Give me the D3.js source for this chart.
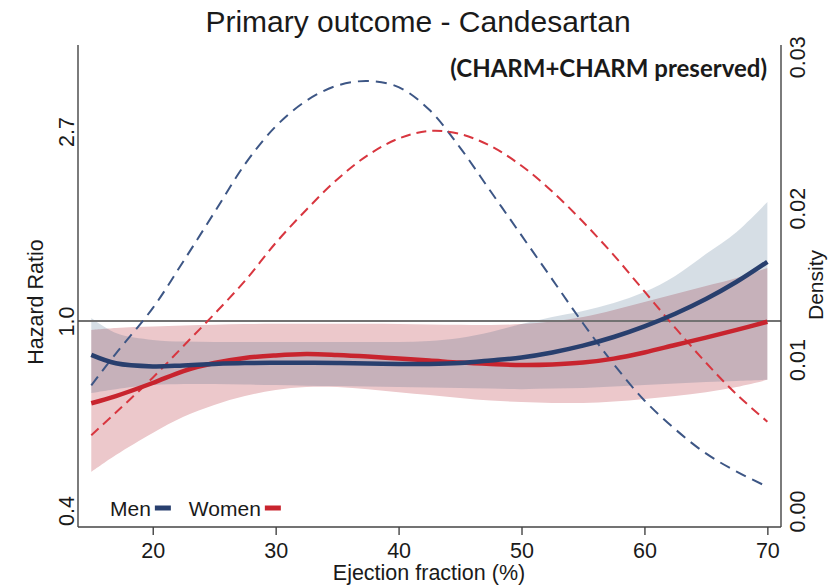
<!DOCTYPE html>
<html>
<head>
<meta charset="utf-8">
<script src="https://cdn.jsdelivr.net/npm/d3@7"></script>
<style>
  html, body { margin: 0; padding: 0; background: #ffffff; }
  svg { display: block; }
  text { font-family: "Liberation Sans", Arial, sans-serif; fill: #1a1a1a; }
</style>
</head>
<body>
<svg id="chart" width="832" height="588"></svg>
<script>
// Ejection fraction grid (%)
const ef = [15, 17, 20, 22.5, 25, 27.5, 30, 32.5, 35, 37.5, 40, 42.5, 45,
            47.5, 50, 52.5, 55, 57.5, 60, 62.5, 65, 67.5, 70];

// Hazard ratio (candesartan vs placebo) with 95% CI, men
const menHR = [0.836, 0.800, 0.787, 0.791, 0.797, 0.801, 0.802, 0.802, 0.801, 0.799, 0.797, 0.797, 0.801,
               0.812, 0.825, 0.847, 0.878, 0.919, 0.972, 1.039, 1.123, 1.230, 1.367];
const menLo = [0.684, 0.698, 0.713, 0.717, 0.717, 0.715, 0.713, 0.711, 0.710, 0.708, 0.706, 0.704, 0.702,
               0.700, 0.698, 0.700, 0.702, 0.708, 0.713, 0.719, 0.725, 0.729, 0.733];
const menHi = [1.016, 0.939, 0.905, 0.897, 0.895, 0.895, 0.895, 0.895, 0.895, 0.895, 0.895, 0.900, 0.914,
               0.944, 0.984, 1.021, 1.054, 1.100, 1.165, 1.268, 1.424, 1.600, 1.874];

// Hazard ratio with 95% CI, women
const womenHR = [0.648, 0.673, 0.721, 0.768, 0.801, 0.823, 0.834, 0.840, 0.836, 0.829, 0.820, 0.812, 0.803,
                 0.797, 0.793, 0.795, 0.803, 0.820, 0.847, 0.881, 0.916, 0.954, 0.996];
const womenLo = [0.451, 0.493, 0.554, 0.603, 0.642, 0.673, 0.695, 0.706, 0.706, 0.698, 0.687, 0.677, 0.666,
                 0.657, 0.652, 0.649, 0.649, 0.654, 0.663, 0.673, 0.687, 0.706, 0.733];
const womenHi = [0.954, 0.964, 0.971, 0.977, 0.981, 0.984, 0.985, 0.986, 0.986, 0.985, 0.984, 0.982, 0.980,
                 0.979, 0.984, 0.998, 1.021, 1.060, 1.105, 1.153, 1.203, 1.255, 1.323];

// Ejection fraction density (right axis)
const menDensity = [0.0083, 0.0104, 0.0134, 0.0165, 0.0197, 0.0229, 0.0254, 0.0271, 0.0281, 0.0284, 0.0280, 0.0265, 0.0240,
                    0.0211, 0.0182, 0.0153, 0.0124, 0.0097, 0.0073, 0.0054, 0.0038, 0.0026, 0.0016];
const womenDensity = [0.0050, 0.0065, 0.0088, 0.0109, 0.0130, 0.0152, 0.0177, 0.0199, 0.0219, 0.0235, 0.0246, 0.0251, 0.0249,
                      0.0241, 0.0228, 0.0211, 0.0191, 0.0169, 0.0145, 0.0121, 0.0098, 0.0077, 0.0059];

// Axis ticks
const xTicks = [20, 30, 40, 50, 60, 70];
const hrTicks = [1 / Math.E, 1, Math.E];
const hrTickLabels = ["0.4", "1.0", "2.7"];
const densityTicks = [0, 0.01, 0.02, 0.03];

const titleText = "Primary outcome - Candesartan";
const subtitleText = "(CHARM+CHARM preserved)";
const seriesNames = ["Men", "Women"];

// ---------------------------------------------------------------
const svg = d3.select("#chart");
const plot = { left: 78, right: 781, top: 45, bottom: 527 };

const navy = "#283f6e";
const navyDash = "#3d5685";
const red = "#c8242e";
const redDash = "#d8363f";

const x = d3.scaleLinear().domain([13.92, 71.11]).range([plot.left, plot.right]);
const yHR = d3.scaleLog().domain([0.3372, 4.291]).range([plot.bottom, plot.top]);
const yDen = d3.scaleLinear().domain([-0.00106, 0.03078]).range([plot.bottom, plot.top]);

const rows = ef.map((e, i) => ({
  ef: e,
  mHR: menHR[i], mLo: menLo[i], mHi: menHi[i],
  wHR: womenHR[i], wLo: womenLo[i], wHi: womenHi[i],
  mD: menDensity[i], wD: womenDensity[i]
}));

const curve = d3.curveCatmullRom.alpha(0.5);
const band = (lo, hi) => d3.area().curve(curve)
  .x(d => x(d.ef)).y0(d => yHR(d[lo])).y1(d => yHR(d[hi]));
const line = (key, scale) => d3.line().curve(curve)
  .x(d => x(d.ef)).y(d => scale(d[key]));

// Confidence bands
svg.append("path").datum(rows).attr("d", band("wLo", "wHi"))
  .attr("fill", "rgb(236,200,203)");
svg.append("path").datum(rows).attr("d", band("mLo", "mHi"))
  .attr("fill", "rgba(26,71,111,0.18)");

// Reference line at HR = 1
svg.append("line")
  .attr("x1", plot.left).attr("x2", plot.right)
  .attr("y1", yHR(1)).attr("y2", yHR(1))
  .attr("stroke", "#727272").attr("stroke-width", 2);

// Density curves
svg.append("path").datum(rows).attr("d", line("mD", yDen))
  .attr("fill", "none").attr("stroke", navyDash).attr("stroke-width", 2)
  .attr("stroke-dasharray", "11,7");
svg.append("path").datum(rows).attr("d", line("wD", yDen))
  .attr("fill", "none").attr("stroke", redDash).attr("stroke-width", 2)
  .attr("stroke-dasharray", "10,6");

// Hazard ratio curves
svg.append("path").datum(rows).attr("d", line("wHR", yHR))
  .attr("fill", "none").attr("stroke", red).attr("stroke-width", 4.5);
svg.append("path").datum(rows).attr("d", line("mHR", yHR))
  .attr("fill", "none").attr("stroke", navy).attr("stroke-width", 4.5);

// Axes
const axisColor = "#444";
const xAxis = svg.append("g")
  .attr("transform", `translate(0,${plot.bottom})`)
  .call(d3.axisBottom(x).tickValues(xTicks).tickSize(8).tickPadding(8).tickFormat(d3.format("d")));
xAxis.select(".domain").attr("d", `M${plot.left},0H${plot.right}`);

const leftAxis = svg.append("g")
  .attr("transform", `translate(${plot.left},0)`)
  .call(d3.axisLeft(yHR).tickValues(hrTicks).tickSize(0)
    .tickFormat((d, i) => hrTickLabels[i]));
leftAxis.select(".domain").attr("d", `M0,${plot.top}V${plot.bottom}`);
leftAxis.selectAll(".tick text")
  .attr("transform", "rotate(-90)")
  .attr("text-anchor", "middle").attr("x", 0).attr("y", -4).attr("dy", 0);

const rightAxis = svg.append("g")
  .attr("transform", `translate(${plot.right},0)`)
  .call(d3.axisRight(yDen).tickValues(densityTicks).tickSize(0).tickFormat(d3.format(".2f")));
rightAxis.select(".domain").attr("d", `M0,${plot.top}V${plot.bottom}`);
rightAxis.selectAll(".tick text")
  .attr("transform", "rotate(-90)")
  .attr("text-anchor", "middle").attr("x", 0).attr("y", 24).attr("dy", 0);

svg.selectAll(".domain").attr("stroke", axisColor).attr("stroke-width", 1.4);
svg.selectAll(".tick line").attr("stroke", axisColor).attr("stroke-width", 1.4);
svg.selectAll(".tick text")
  .attr("font-family", "Liberation Sans, Arial, sans-serif")
  .attr("font-size", 21.5).attr("fill", "#1a1a1a");

// Titles
svg.append("text").attr("x", 418).attr("y", 32)
  .attr("text-anchor", "middle").attr("font-size", 30).text(titleText);

const sub = svg.append("text").attr("x", 767).attr("y", 77)
  .attr("text-anchor", "end").attr("font-weight", "bold")
  .style("font-family", "Lato, 'Open Sans', sans-serif")
  .attr("font-size", 24).attr("fill", "#000").text(subtitleText);
const subW = sub.node().getComputedTextLength();
sub.attr("font-size", 24 * 317 / subW);

svg.append("text").attr("x", 429).attr("y", 580)
  .attr("text-anchor", "middle").attr("font-size", 21.5).text("Ejection fraction (%)");

svg.append("text").attr("transform", "translate(43,302) rotate(-90)")
  .attr("text-anchor", "middle").attr("font-size", 21.5).text("Hazard Ratio");

svg.append("text").attr("transform", "translate(823,285) rotate(-90)")
  .attr("text-anchor", "middle").attr("font-size", 21).text("Density");

// Legend
const legend = svg.append("g").attr("transform", "translate(110,516)");
const colors = [navy, red];
let lx = 0;
seriesNames.forEach((name, i) => {
  const t = legend.append("text").attr("x", lx).attr("y", 0)
    .attr("font-size", 21).text(name);
  const w = t.node().getComputedTextLength();
  legend.append("line")
    .attr("x1", lx + w + 4).attr("x2", lx + w + 20)
    .attr("y1", -8).attr("y2", -8)
    .attr("stroke", colors[i]).attr("stroke-width", 5);
  lx += w + 38;
});
</script>
</body>
</html>
